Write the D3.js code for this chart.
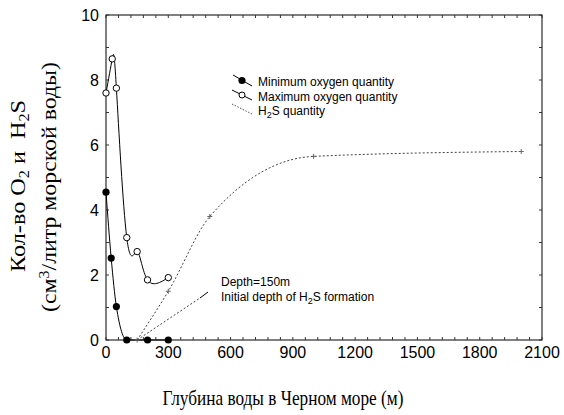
<!DOCTYPE html>
<html lang="ru">
<head>
    <meta charset="UTF-8">
    <script src="https://cdn.jsdelivr.net/npm/d3@7"></script>
    <title>O2 and H2S in the Black Sea</title>
    <style>
        body { margin: 0; background: white; }
        .tick-label { font-family: "Liberation Sans", Arial, sans-serif; font-size: 16px; }
        .small { font-family: "Liberation Sans", Arial, sans-serif; font-size: 12px; }
        .title { font-family: "Liberation Serif", "Times New Roman", serif; font-size: 21px; white-space: pre; }
    </style>
</head>
<body>
<div id="chart"></div>
<script>
    /*------------------- data --------------------*/
    // minimum oxygen (filled circles)
    const depthMin = [0, 25, 50, 100, 200, 300];
    const minO2 = [4.55, 2.52, 1.03, 0, 0, 0];
    // maximum oxygen (open circles)
    const depthMax = [0, 30, 50, 100, 150, 200, 300];
    const maxO2 = [7.6, 8.65, 7.75, 3.15, 2.72, 1.85, 1.92];
    // H2S
    const depthH2S = [150, 300, 500, 1000, 2000];
    const h2s = [0, 1.5, 3.8, 5.65, 5.8];

    const xTicks = [0, 300, 600, 900, 1200, 1500, 1800, 2100];
    const yTicks = [0, 2, 4, 6, 8, 10];
    const legendLabels = ["Minimum oxygen quantity", "Maximum oxygen quantity", "quantity"];

    /*------------------- layout --------------------*/
    const width = 564, height = 415;
    const margin = { left: 106, right: 22, top: 15, bottom: 75 };

    const svg = d3.select("#chart").append("svg")
        .attr("width", width)
        .attr("height", height);

    const x = d3.scaleLinear().domain([0, 2100]).range([margin.left, width - margin.right]);
    const y = d3.scaleLinear().domain([0, 10]).range([height - margin.bottom, margin.top]);

    const minData = depthMin.map((d, i) => [d, minO2[i]]);
    const maxData = depthMax.map((d, i) => [d, maxO2[i]]);
    const h2sData = depthH2S.map((d, i) => [d, h2s[i]]);

    // frame
    svg.append("rect")
        .attr("x", x(0)).attr("y", y(10))
        .attr("width", x(2100) - x(0)).attr("height", y(0) - y(10))
        .attr("fill", "none").attr("stroke", "black").attr("stroke-width", 1);

    // inward ticks on all four sides
    const xMinor = d3.range(0, 2101, 60);
    const yMinor = d3.range(0, 11, 1);
    const tickGroup = svg.append("g").attr("stroke", "#333").attr("stroke-width", 1);
    xMinor.forEach(v => {
        tickGroup.append("line").attr("x1", x(v)).attr("x2", x(v)).attr("y1", y(0)).attr("y2", y(0) - 3);
        tickGroup.append("line").attr("x1", x(v)).attr("x2", x(v)).attr("y1", y(10)).attr("y2", y(10) + 3);
    });
    yMinor.forEach(v => {
        tickGroup.append("line").attr("x1", x(0)).attr("x2", x(0) + 3).attr("y1", y(v)).attr("y2", y(v));
        tickGroup.append("line").attr("x1", x(2100)).attr("x2", x(2100) - 3).attr("y1", y(v)).attr("y2", y(v));
    });

    // tick labels
    svg.selectAll(".xl").data(xTicks).enter().append("text")
        .attr("class", "tick-label")
        .attr("x", d => x(d)).attr("y", y(0) + 18)
        .attr("text-anchor", "middle")
        .text(d => d);
    svg.selectAll(".yl").data(yTicks).enter().append("text")
        .attr("class", "tick-label")
        .attr("x", x(0) - 7).attr("y", d => y(d) + 6)
        .attr("text-anchor", "end")
        .text(d => d);

    /*------------------- lines --------------------*/
    const lineNatural = d3.line().x(d => x(d[0])).y(d => y(d[1])).curve(d3.curveNatural);
    const lineMono = d3.line().x(d => x(d[0])).y(d => y(d[1])).curve(d3.curveMonotoneX);

    svg.append("path").attr("d", lineMono(minData))
        .attr("fill", "none").attr("stroke", "black").attr("stroke-width", 1);
    svg.append("path").attr("d", lineNatural(maxData))
        .attr("fill", "none").attr("stroke", "black").attr("stroke-width", 1);

    // H2S smooth dotted curve
    svg.append("path").attr("d", lineMono(h2sData))
        .attr("fill", "none").attr("stroke", "#444").attr("stroke-width", 1)
        .attr("stroke-dasharray", "2,2");

    // markers
    svg.selectAll(".pmin").data(minData).enter().append("circle")
        .attr("cx", d => x(d[0])).attr("cy", d => y(d[1])).attr("r", 3.6)
        .attr("fill", "black");
    svg.selectAll(".pmax").data(maxData).enter().append("circle")
        .attr("cx", d => x(d[0])).attr("cy", d => y(d[1])).attr("r", 3.2)
        .attr("fill", "white").attr("stroke", "black").attr("stroke-width", 1);
    svg.selectAll(".ph2s").data(h2sData).enter().append("path")
        .attr("d", d => `M${x(d[0]) - 2.5},${y(d[1])}h5M${x(d[0])},${y(d[1]) - 2.5}v5`)
        .attr("stroke", "#666").attr("stroke-width", 1);

    /*------------------- legend --------------------*/
    const legend = svg.append("g").attr("class", "small");
    const legY = [86, 101, 115];
    legend.append("line").attr("x1", 233).attr("y1", 75).attr("x2", 252).attr("y2", 86)
        .attr("stroke", "black");
    legend.append("circle").attr("cx", 242).attr("cy", 80.5).attr("r", 3.6).attr("fill", "black");
    legend.append("line").attr("x1", 232).attr("y1", 90).attr("x2", 252).attr("y2", 100)
        .attr("stroke", "black");
    legend.append("circle").attr("cx", 242).attr("cy", 95).attr("r", 3).attr("fill", "white").attr("stroke", "black");
    legend.append("line").attr("x1", 232).attr("y1", 104).attr("x2", 252).attr("y2", 114)
        .attr("stroke", "#555").attr("stroke-dasharray", "1.5,1.5");

    legend.append("text").attr("x", 258).attr("y", legY[0]).text(legendLabels[0]);
    legend.append("text").attr("x", 258).attr("y", legY[1]).text(legendLabels[1]);
    const h2sLabel = legend.append("text").attr("x", 258).attr("y", legY[2]);
    h2sLabel.append("tspan").text("H");
    h2sLabel.append("tspan").attr("dy", 3).attr("font-size", 9).text("2");
    h2sLabel.append("tspan").attr("dy", -3).text("S " + legendLabels[2]);

    /*------------------- annotation --------------------*/
    svg.append("line")
        .attr("x1", x(150)).attr("y1", y(0)).attr("x2", 200).attr("y2", 298)
        .attr("stroke", "#444").attr("stroke-dasharray", "2,2");
    svg.append("line")
        .attr("x1", 200).attr("y1", 298).attr("x2", 208).attr("y2", 292)
        .attr("stroke", "black");
    const ann = svg.append("g").attr("class", "small");
    ann.append("text").attr("x", 221).attr("y", 286).text("Depth=150m");
    const ann2 = ann.append("text").attr("x", 221).attr("y", 301);
    ann2.append("tspan").text("Initial depth of H");
    ann2.append("tspan").attr("dy", 3).attr("font-size", 9).text("2");
    ann2.append("tspan").attr("dy", -3).text("S formation");

    /*------------------- axis titles --------------------*/
    // squeeze a text to a target width, keeping its glyph height
    function fitText(sel, cx, cy, target, angle) {
        const w = sel.node().getComputedTextLength();
        sel.attr("transform", `translate(${cx},${cy}) rotate(${angle}) scale(${target / w},1)`);
    }

    const xt = svg.append("text").attr("class", "title")
        .attr("text-anchor", "middle")
        .text("Глубина воды в Черном море (м)");
    fitText(xt, 283, 405, 241, 0);

    const yt1 = svg.append("text").attr("class", "title")
        .attr("text-anchor", "middle");
    yt1.append("tspan").text("Кол-во O");
    yt1.append("tspan").attr("dy", 4).attr("font-size", 14).text("2");
    yt1.append("tspan").attr("dy", -4).text(" и  H");
    yt1.append("tspan").attr("dy", 4).attr("font-size", 14).text("2");
    yt1.append("tspan").attr("dy", -4).text("S");
    fitText(yt1, 25, 186, 172, -90);

    const yt2 = svg.append("text").attr("class", "title")
        .attr("text-anchor", "middle");
    yt2.append("tspan").text("(см");
    yt2.append("tspan").attr("dy", -7).attr("font-size", 14).text("3");
    yt2.append("tspan").attr("dy", 7).text("/литр морской воды)");
    fitText(yt2, 56, 187, 250, -90);
</script>
</body>
</html>
